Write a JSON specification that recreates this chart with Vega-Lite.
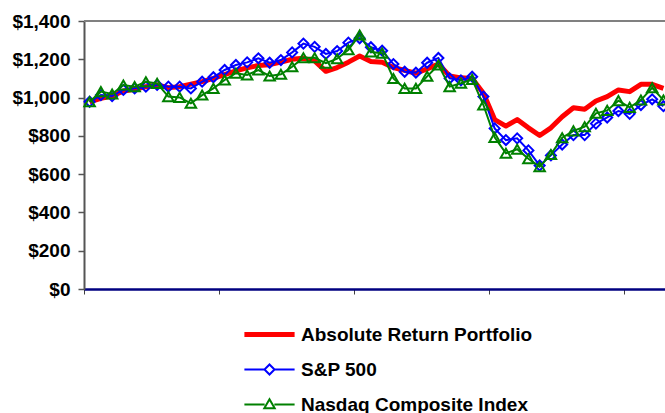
{
  "$schema": "https://vega.github.io/schema/vega-lite/v6.json",
  "autosize": "none",
  "padding": {"left": 84, "top": 21, "right": 0, "bottom": 124},
  "width": 581,
  "height": 268,
  "background": "white",
  "config": {
    "view": {"stroke": null},
    "font": "Liberation Sans"
  },
  "datasets": {
    "perf": [
      {"i":0,"s":"Absolute Return Portfolio","v":978},{"i":0,"s":"S&P 500","v":978},{"i":0,"s":"Nasdaq Composite Index","v":978},
      {"i":1,"s":"Absolute Return Portfolio","v":996},{"i":1,"s":"S&P 500","v":1013},{"i":1,"s":"Nasdaq Composite Index","v":1031},
      {"i":2,"s":"Absolute Return Portfolio","v":1008},{"i":2,"s":"S&P 500","v":1008},{"i":2,"s":"Nasdaq Composite Index","v":1019},
      {"i":3,"s":"Absolute Return Portfolio","v":1034},{"i":3,"s":"S&P 500","v":1040},{"i":3,"s":"Nasdaq Composite Index","v":1066},
      {"i":4,"s":"Absolute Return Portfolio","v":1043},{"i":4,"s":"S&P 500","v":1048},{"i":4,"s":"Nasdaq Composite Index","v":1057},
      {"i":5,"s":"Absolute Return Portfolio","v":1057},{"i":5,"s":"S&P 500","v":1057},{"i":5,"s":"Nasdaq Composite Index","v":1083},
      {"i":6,"s":"Absolute Return Portfolio","v":1066},{"i":6,"s":"S&P 500","v":1066},{"i":6,"s":"Nasdaq Composite Index","v":1074},
      {"i":7,"s":"Absolute Return Portfolio","v":1052},{"i":7,"s":"S&P 500","v":1057},{"i":7,"s":"Nasdaq Composite Index","v":1005},
      {"i":8,"s":"Absolute Return Portfolio","v":1057},{"i":8,"s":"S&P 500","v":1057},{"i":8,"s":"Nasdaq Composite Index","v":1001},
      {"i":9,"s":"Absolute Return Portfolio","v":1070},{"i":9,"s":"S&P 500","v":1048},{"i":9,"s":"Nasdaq Composite Index","v":970},
      {"i":10,"s":"Absolute Return Portfolio","v":1083},{"i":10,"s":"S&P 500","v":1083},{"i":10,"s":"Nasdaq Composite Index","v":1013},
      {"i":11,"s":"Absolute Return Portfolio","v":1100},{"i":11,"s":"S&P 500","v":1106},{"i":11,"s":"Nasdaq Composite Index","v":1048},
      {"i":12,"s":"Absolute Return Portfolio","v":1120},{"i":12,"s":"S&P 500","v":1144},{"i":12,"s":"Nasdaq Composite Index","v":1092},
      {"i":13,"s":"Absolute Return Portfolio","v":1140},{"i":13,"s":"S&P 500","v":1170},{"i":13,"s":"Nasdaq Composite Index","v":1127},
      {"i":14,"s":"Absolute Return Portfolio","v":1155},{"i":14,"s":"S&P 500","v":1184},{"i":14,"s":"Nasdaq Composite Index","v":1118},
      {"i":15,"s":"Absolute Return Portfolio","v":1168},{"i":15,"s":"S&P 500","v":1205},{"i":15,"s":"Nasdaq Composite Index","v":1144},
      {"i":16,"s":"Absolute Return Portfolio","v":1172},{"i":16,"s":"S&P 500","v":1182},{"i":16,"s":"Nasdaq Composite Index","v":1113},
      {"i":17,"s":"Absolute Return Portfolio","v":1185},{"i":17,"s":"S&P 500","v":1196},{"i":17,"s":"Nasdaq Composite Index","v":1122},
      {"i":18,"s":"Absolute Return Portfolio","v":1200},{"i":18,"s":"S&P 500","v":1236},{"i":18,"s":"Nasdaq Composite Index","v":1161},
      {"i":19,"s":"Absolute Return Portfolio","v":1205},{"i":19,"s":"S&P 500","v":1282},{"i":19,"s":"Nasdaq Composite Index","v":1208},
      {"i":20,"s":"Absolute Return Portfolio","v":1192},{"i":20,"s":"S&P 500","v":1265},{"i":20,"s":"Nasdaq Composite Index","v":1208},
      {"i":21,"s":"Absolute Return Portfolio","v":1137},{"i":21,"s":"S&P 500","v":1228},{"i":21,"s":"Nasdaq Composite Index","v":1180},
      {"i":22,"s":"Absolute Return Portfolio","v":1157},{"i":22,"s":"S&P 500","v":1243},{"i":22,"s":"Nasdaq Composite Index","v":1203},
      {"i":23,"s":"Absolute Return Portfolio","v":1185},{"i":23,"s":"S&P 500","v":1287},{"i":23,"s":"Nasdaq Composite Index","v":1250},
      {"i":24,"s":"Absolute Return Portfolio","v":1217},{"i":24,"s":"S&P 500","v":1310},{"i":24,"s":"Nasdaq Composite Index","v":1327},
      {"i":25,"s":"Absolute Return Portfolio","v":1189},{"i":25,"s":"S&P 500","v":1263},{"i":25,"s":"Nasdaq Composite Index","v":1238},
      {"i":26,"s":"Absolute Return Portfolio","v":1185},{"i":26,"s":"S&P 500","v":1245},{"i":26,"s":"Nasdaq Composite Index","v":1232},
      {"i":27,"s":"Absolute Return Portfolio","v":1157},{"i":27,"s":"S&P 500","v":1175},{"i":27,"s":"Nasdaq Composite Index","v":1100},
      {"i":28,"s":"Absolute Return Portfolio","v":1142},{"i":28,"s":"S&P 500","v":1135},{"i":28,"s":"Nasdaq Composite Index","v":1048},
      {"i":29,"s":"Absolute Return Portfolio","v":1127},{"i":29,"s":"S&P 500","v":1130},{"i":29,"s":"Nasdaq Composite Index","v":1048},
      {"i":30,"s":"Absolute Return Portfolio","v":1150},{"i":30,"s":"S&P 500","v":1182},{"i":30,"s":"Nasdaq Composite Index","v":1111},
      {"i":31,"s":"Absolute Return Portfolio","v":1175},{"i":31,"s":"S&P 500","v":1207},{"i":31,"s":"Nasdaq Composite Index","v":1170},
      {"i":32,"s":"Absolute Return Portfolio","v":1113},{"i":32,"s":"S&P 500","v":1100},{"i":32,"s":"Nasdaq Composite Index","v":1057},
      {"i":33,"s":"Absolute Return Portfolio","v":1103},{"i":33,"s":"S&P 500","v":1090},{"i":33,"s":"Nasdaq Composite Index","v":1075},
      {"i":34,"s":"Absolute Return Portfolio","v":1100},{"i":34,"s":"S&P 500","v":1109},{"i":34,"s":"Nasdaq Composite Index","v":1095},
      {"i":35,"s":"Absolute Return Portfolio","v":1022},{"i":35,"s":"S&P 500","v":1005},{"i":35,"s":"Nasdaq Composite Index","v":961},
      {"i":36,"s":"Absolute Return Portfolio","v":885},{"i":36,"s":"S&P 500","v":839},{"i":36,"s":"Nasdaq Composite Index","v":792},
      {"i":37,"s":"Absolute Return Portfolio","v":851},{"i":37,"s":"S&P 500","v":778},{"i":37,"s":"Nasdaq Composite Index","v":709},
      {"i":38,"s":"Absolute Return Portfolio","v":885},{"i":38,"s":"S&P 500","v":787},{"i":38,"s":"Nasdaq Composite Index","v":730},
      {"i":39,"s":"Absolute Return Portfolio","v":842},{"i":39,"s":"S&P 500","v":724},{"i":39,"s":"Nasdaq Composite Index","v":680},
      {"i":40,"s":"Absolute Return Portfolio","v":802},{"i":40,"s":"S&P 500","v":645},{"i":40,"s":"Nasdaq Composite Index","v":639},
      {"i":41,"s":"Absolute Return Portfolio","v":842},{"i":41,"s":"S&P 500","v":698},{"i":41,"s":"Nasdaq Composite Index","v":703},
      {"i":42,"s":"Absolute Return Portfolio","v":900},{"i":42,"s":"S&P 500","v":755},{"i":42,"s":"Nasdaq Composite Index","v":790},
      {"i":43,"s":"Absolute Return Portfolio","v":947},{"i":43,"s":"S&P 500","v":804},{"i":43,"s":"Nasdaq Composite Index","v":826},
      {"i":44,"s":"Absolute Return Portfolio","v":939},{"i":44,"s":"S&P 500","v":804},{"i":44,"s":"Nasdaq Composite Index","v":848},
      {"i":45,"s":"Absolute Return Portfolio","v":982},{"i":45,"s":"S&P 500","v":864},{"i":45,"s":"Nasdaq Composite Index","v":918},
      {"i":46,"s":"Absolute Return Portfolio","v":1005},{"i":46,"s":"S&P 500","v":896},{"i":46,"s":"Nasdaq Composite Index","v":933},
      {"i":47,"s":"Absolute Return Portfolio","v":1040},{"i":47,"s":"S&P 500","v":930},{"i":47,"s":"Nasdaq Composite Index","v":984},
      {"i":48,"s":"Absolute Return Portfolio","v":1031},{"i":48,"s":"S&P 500","v":915},{"i":48,"s":"Nasdaq Composite Index","v":949},
      {"i":49,"s":"Absolute Return Portfolio","v":1069},{"i":49,"s":"S&P 500","v":961},{"i":49,"s":"Nasdaq Composite Index","v":987},
      {"i":50,"s":"Absolute Return Portfolio","v":1069},{"i":50,"s":"S&P 500","v":991},{"i":50,"s":"Nasdaq Composite Index","v":1051},
      {"i":51,"s":"Absolute Return Portfolio","v":1048},{"i":51,"s":"S&P 500","v":955},{"i":51,"s":"Nasdaq Composite Index","v":987}
    ],
    "border": [{"top": 1400}]
  },
  "data": {"name": "perf"},
  "encoding": {
    "x": {
      "field": "i", "type": "quantitative",
      "scale": {"domain": [-0.5, 51.14], "nice": false, "zero": false},
      "axis": {
        "title": null, "labels": false, "grid": false,
        "values": [-0.5, 11.5, 23.5, 35.5, 47.5],
        "domainColor": "#000080", "domainWidth": 2.5,
        "tickColor": "#404040", "tickWidth": 1, "tickSize": 5
      }
    },
    "y": {
      "field": "v", "type": "quantitative",
      "scale": {"domain": [0, 1400], "nice": false},
      "axis": {
        "title": null, "grid": false,
        "values": [0, 200, 400, 600, 800, 1000, 1200, 1400],
        "format": "$,.0f",
        "labelFont": "Liberation Sans", "labelFontSize": 19, "labelFontWeight": "bold",
        "labelColor": "#000000", "labelPadding": 8,
        "domainColor": "#555555", "domainWidth": 2,
        "tickColor": "#555555", "tickWidth": 1.5, "tickSize": 6
      }
    },
    "color": {
      "field": "s", "type": "nominal",
      "scale": {
        "domain": ["Absolute Return Portfolio", "S&P 500", "Nasdaq Composite Index"],
        "range": ["#ff0000", "#0000ff", "#008000"]
      },
      "legend": {
        "title": null, "orient": "none", "legendX": 176, "legendY": 304,
        "direction": "vertical",
        "symbolSize": 280, "labelOffset": 22, "rowPadding": 15,
        "labelFont": "Liberation Sans", "labelFontSize": 19, "labelFontWeight": "bold",
        "labelColor": "#000000", "labelLimit": 400,
        "encode": {
          "symbols": {
            "update": {
              "shape": {"signal": "datum.value === 'Absolute Return Portfolio' ? 'M-3,0H3' : datum.value === 'S&P 500' ? 'M-3,0H-0.6M0.6,0H3M0,-0.6L0.6,0L0,0.6L-0.6,0Z' : 'M-3,0H-0.58M0.58,0H3M0,-0.62L0.62,0.45L-0.62,0.45Z'"},
              "strokeWidth": {"signal": "datum.value === 'Absolute Return Portfolio' ? 5 : 2"},
              "fill": {"value": "#ffffff"},
              "opacity": {"value": 1}
            }
          }
        }
      }
    }
  },
  "layer": [
    {
      "data": {"name": "border"},
      "mark": {"type": "rule", "color": "#808080", "strokeWidth": 2},
      "encoding": {"y": {"field": "top", "type": "quantitative"}, "x": null, "color": null}
    },
    {
      "transform": [{"filter": "datum.s === 'Absolute Return Portfolio'"}],
      "mark": {"type": "line", "strokeWidth": 5, "strokeJoin": "round"}
    },
    {
      "transform": [{"filter": "datum.s === 'S&P 500'"}],
      "mark": {"type": "line", "strokeWidth": 2}
    },
    {
      "transform": [{"filter": "datum.s === 'S&P 500'"}],
      "mark": {"type": "point", "shape": "diamond", "filled": false, "size": 100, "strokeWidth": 2, "opacity": 1}
    },
    {
      "transform": [{"filter": "datum.s === 'Nasdaq Composite Index'"}],
      "mark": {"type": "line", "strokeWidth": 2}
    },
    {
      "transform": [{"filter": "datum.s === 'Nasdaq Composite Index'"}],
      "mark": {"type": "point", "shape": "triangle-up", "filled": false, "size": 110, "strokeWidth": 2, "opacity": 1}
    }
  ]
}
